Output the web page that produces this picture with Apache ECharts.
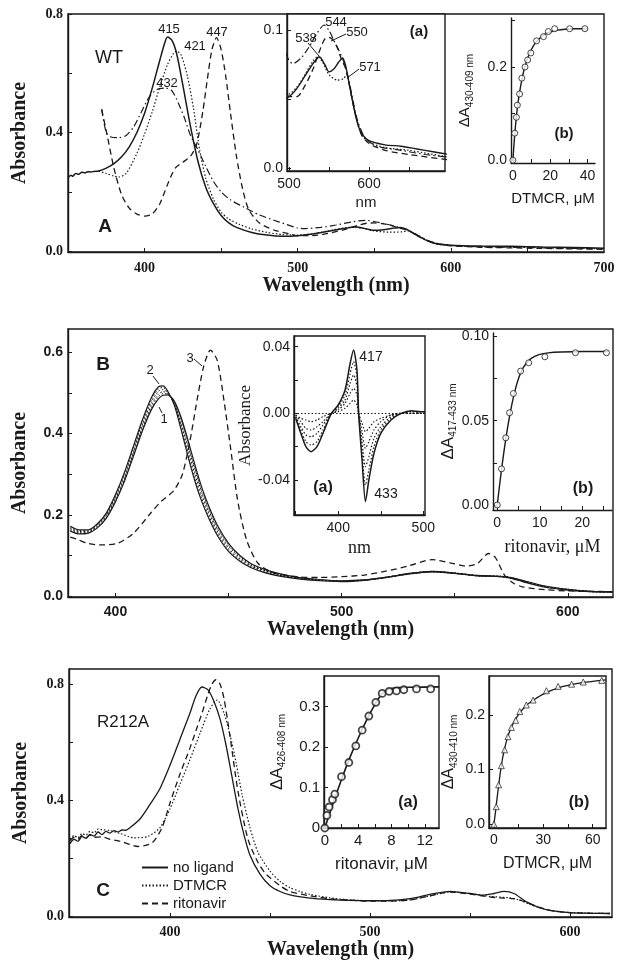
<!DOCTYPE html>
<html>
<head>
<meta charset="utf-8">
<script src="https://cdn.jsdelivr.net/npm/echarts@6/dist/echarts.min.js"></script>
<style>
  html, body { margin: 0; padding: 0; background: #fff; }
  #chart { width: 624px; height: 976px; }
</style>
</head>
<body>
<div id="chart"></div>
<script>
// ---- panel A: WT spectra (wavelength, absorbance) ----
const A_noLigand = [[350,.248],[352,.256],[353,.252],[355,.262],[357,.259],[359,.266],[361,.264],[363,.268],[365,.267],[367,.269],[370,.27],[375,.28],[380,.295],[385,.318],[390,.352],[395,.40],[400,.465],[405,.55],[410,.645],[413,.70],[415,.722],[418,.71],[421,.665],[425,.56],[430,.42],[435,.30],[440,.215],[445,.16],[450,.12],[455,.095],[460,.08],[470,.063],[480,.054],[490,.05],[500,.052],[510,.058],[520,.067],[530,.076],[538,.081],[545,.075],[550,.07],[556,.072],[562,.077],[567,.08],[571,.074],[575,.062],[580,.047],[585,.034],[590,.026],[600,.02],[620,.017],[640,.016],[660,.014],[680,.012],[700,.01]];
const A_dotted = [[370,.27],[375,.262],[380,.253],[383,.25],[388,.262],[395,.33],[400,.395],[405,.47],[410,.555],[415,.63],[419,.668],[421,.675],[424,.66],[428,.59],[432,.48],[436,.34],[440,.245],[445,.175],[450,.132],[455,.108],[462,.09],[470,.075],[480,.063],[490,.056],[500,.054],[510,.059],[520,.068],[530,.078],[536,.081],[542,.077],[550,.068],[560,.064],[568,.065],[572,.068],[575,.062],[580,.047],[590,.025],[600,.019],[620,.015],[650,.013],[700,.008]];
const A_dashed = [[372,.478],[376,.38],[380,.28],[385,.19],[390,.145],[395,.125],[400,.118],[405,.125],[410,.16],[415,.225],[420,.28],[425,.30],[430,.32],[434,.36],[438,.47],[441,.58],[444,.68],[447,.72],[450,.68],[453,.59],[456,.47],[460,.32],[464,.21],[468,.14],[475,.095],[485,.07],[495,.058],[500,.052],[510,.052],[520,.06],[530,.072],[540,.088],[545,.094],[550,.095],[555,.093],[560,.088],[565,.08],[571,.072],[575,.062],[580,.047],[590,.025],[600,.018],[620,.013],[650,.01],[700,.006]];
const A_dashdot = [[372,.478],[375,.40],[378,.385],[383,.383],[388,.39],[393,.42],[398,.47],[403,.52],[408,.545],[414,.55],[418,.54],[422,.50],[426,.45],[430,.39],[435,.34],[440,.285],[445,.235],[450,.20],[456,.173],[465,.148],[475,.122],[488,.098],[500,.078],[505,.076],[515,.08],[525,.088],[535,.098],[544,.104],[550,.10],[556,.093],[562,.086],[568,.078],[573,.068],[578,.055],[585,.036],[595,.022],[610,.016],[640,.013],[670,.01],[700,.008]];
// inset A(b): DTMCR titration
const dtmcrA = [0,1,1.9,2.4,3.6,4.8,6.5,7.9,9.6,12.7,16.4,19,22.4,30.4,38.6];
const dA_A = [0,0.058,0.092,0.118,0.142,0.176,0.2,0.215,0.23,0.256,0.265,0.276,0.282,0.282,0.282];
const fitA_x = [0,1,2,3,4,5,6,8,10,12,14,16,18,20,24,28,32,36,40];
const fitA_y = [0,0.055,0.098,0.13,0.155,0.176,0.194,0.22,0.238,0.251,0.26,0.267,0.272,0.275,0.279,0.281,0.282,0.282,0.282];

// ---- panel B: ritonavir titration spectra ----
const wlB = [380,384,388,392,396,400,404,408,412,416,419,421,423,426,429,432,435,438,441,445,450,455,460,466,472,480,490,500,510,520,530,540,550,560,570,575,580,590,600,610,620];
const B_curve2 = [.172,.163,.163,.178,.205,.25,.305,.37,.435,.49,.515,.517,.505,.47,.41,.345,.285,.235,.195,.15,.11,.086,.07,.058,.05,.043,.038,.036,.039,.046,.055,.06,.056,.05,.048,.044,.036,.022,.015,.011,.01];
const B_step1 = [.170,.161,.161,.176,.202,.246,.300,.364,.429,.484,.510,.513,.503,.472,.417,.353,.293,.242,.201,.155,.114,.089,.072,.060,.051,.044,.039,.036,.039,.046,.055,.060,.056,.050,.048,.045,.037,.023,.015,.011,.010];
const B_step2 = [.167,.159,.159,.174,.199,.242,.295,.358,.423,.478,.504,.508,.501,.474,.424,.362,.302,.25,.208,.16,.118,.092,.074,.062,.052,.045,.039,.037,.039,.046,.055,.060,.056,.050,.048,.045,.037,.023,.016,.011,.010];
const B_step3 = [.165,.157,.158,.172,.197,.238,.290,.353,.417,.471,.497,.503,.499,.476,.431,.371,.311,.258,.214,.166,.123,.095,.076,.063,.053,.045,.040,.037,.040,.047,.056,.061,.057,.051,.049,.045,.038,.024,.016,.012,.010];
const B_step4 = [.162,.155,.156,.170,.194,.235,.286,.349,.412,.465,.491,.498,.497,.478,.436,.378,.318,.264,.219,.17,.126,.098,.078,.064,.054,.046,.040,.038,.040,.047,.056,.061,.057,.051,.049,.046,.038,.024,.017,.012,.011];
const B_curve1 = [.160,.153,.155,.168,.192,.232,.283,.345,.408,.46,.485,.494,.495,.48,.44,.385,.325,.27,.225,.175,.13,.10,.08,.066,.056,.047,.041,.038,.04,.047,.056,.061,.057,.051,.049,.046,.039,.025,.017,.012,.011];
const B_curve3 = [[380,.145],[383,.14],[387.6,.13],[393,.126],[401,.13],[408,.155],[415.5,.204],[420,.232],[425.8,.26],[429.6,.30],[433,.384],[436,.48],[439,.565],[442,.605],[445,.58],[448,.48],[451,.36],[454,.236],[458,.138],[463,.081],[470,.057],[482,.047],[490,.046],[500,.048],[510,.052],[520,.062],[530,.075],[540,.09],[548,.082],[555,.074],[560,.08],[565,.105],[568,.095],[572,.052],[576,.032],[580,.023],[590,.016],[600,.013],[610,.012],[620,.011]];
// inset B(a): difference spectra
const wlBa = [350,356,362,368,375,382,392,400,408,414,418,422,424,428,432,436,442,450,462,474,486,497,502];
const Ba_full = [-0.003,-0.012,-0.02,-0.023,-0.02,-0.012,0.0,0.005,0.014,0.03,0.038,0.026,0.0,-0.028,-0.053,-0.04,-0.024,-0.012,-0.004,0.0,0.0016,0.001,0.001];
const Ba_4 = [-0.002,-0.010,-0.017,-0.019,-0.017,-0.010,0.0,0.004,0.011,0.024,0.031,0.022,0.0,-0.023,-0.043,-0.034,-0.020,-0.010,-0.003,0.0,0.001,0.001,0.001];
const Ba_3 = [-0.002,-0.008,-0.013,-0.014,-0.012,-0.007,0.0,0.003,0.008,0.018,0.023,0.016,0.0,-0.017,-0.032,-0.026,-0.015,-0.008,-0.002,0.0,0.001,0.0,0.0];
const Ba_2 = [-0.001,-0.005,-0.009,-0.010,-0.008,-0.005,0.0,0.002,0.006,0.012,0.015,0.011,0.0,-0.011,-0.021,-0.017,-0.010,-0.005,-0.001,0.0,0.0,0.0,0.0];
const Ba_1 = [-0.001,-0.003,-0.004,-0.005,-0.004,-0.002,0.0,0.001,0.003,0.006,0.008,0.005,0.0,-0.006,-0.011,-0.009,-0.005,-0.003,-0.001,0.0,0.0,0.0,0.0];
// inset B(b): ritonavir titration
const ritB = [0,1.0,2.0,2.9,3.8,5.5,7.4,11.2,18.4,25.7];
const dA_B = [0,0.0214,0.0398,0.0547,0.0661,0.0794,0.0843,0.0879,0.0903,0.0903];
const fitB_x = [0,1,2,3,4,5,6,7,8,10,12,15,20,26];
const fitB_y = [0,0.021,0.039,0.054,0.066,0.075,0.081,0.0845,0.087,0.0893,0.0902,0.0907,0.091,0.091];

// ---- panel C: R212A ----
const C_noLigand = [[350,.25],[352,.265],[354,.258],[356,.275],[358,.268],[360,.282],[362,.276],[364,.29],[366,.281],[368,.292],[370,.286],[372,.295],[374,.29],[376,.297],[378,.296],[380,.305],[385,.335],[390,.385],[395,.44],[400,.52],[405,.61],[410,.70],[413,.76],[416,.79],[419,.78],[422,.74],[425,.68],[428,.59],[431,.48],[434,.37],[437,.28],[440,.21],[445,.145],[450,.105],[455,.085],[460,.073],[470,.062],[480,.057],[490,.054],[500,.053],[510,.054],[520,.06],[530,.075],[540,.085],[550,.078],[556,.072],[562,.078],[567,.085],[572,.078],[578,.05],[585,.028],[590,.02],[600,.012],[610,.01],[620,.009]];
const C_dtmcr = [[350,.265],[352,.278],[354,.27],[356,.285],[358,.279],[360,.292],[362,.287],[364,.3],[366,.298],[370,.295],[375,.285],[382,.27],[389,.275],[395,.305],[400,.37],[405,.455],[410,.54],[415,.63],[420,.715],[423.6,.745],[427,.70],[430,.625],[433,.53],[436,.42],[440,.305],[444,.22],[450,.155],[455,.12],[460,.098],[465,.085],[470,.075],[480,.063],[490,.056],[500,.053],[510,.052],[520,.056],[530,.07],[540,.083],[550,.078],[560,.068],[570,.063],[575,.055],[580,.04],[590,.02],[600,.012],[620,.009]];
const C_ritonavir = [[350,.26],[352,.272],[354,.265],[356,.278],[358,.27],[360,.279],[362,.272],[366,.273],[370,.265],[376,.256],[384,.24],[391,.252],[396,.305],[400,.39],[405,.49],[410,.58],[413,.64],[416,.70],[419,.765],[421,.80],[423,.815],[425,.80],[427,.75],[430,.62],[434,.43],[439,.265],[444,.185],[448,.145],[455,.105],[460,.085],[470,.07],[480,.06],[490,.055],[500,.052],[510,.052],[520,.056],[530,.07],[540,.083],[550,.076],[560,.066],[567,.062],[572,.06],[578,.048],[585,.03],[590,.02],[600,.012],[620,.009]];
// inset C(a): ritonavir
const ritC = [0,0.25,0.52,0.92,1.2,2.0,2.88,3.72,4.48,5.28,6.12,6.88,7.72,8.6,9.48,11.0,12.7];
const dA_Ca = [0,0.031,0.052,0.070,0.084,0.127,0.162,0.203,0.242,0.277,0.311,0.333,0.338,0.339,0.342,0.344,0.344];
const fitCa_x = [0,1,2,3,4,5,6,6.8,7.5,8.5,10,13.7];
const fitCa_y = [0,0.062,0.12,0.174,0.222,0.266,0.305,0.33,0.342,0.347,0.348,0.349];
// inset C(b): DTMCR
const dtC = [0,1.4,2.85,4.5,6.5,8.5,10.6,13.2,15.7,19.7,23.8,31.9,39,47.2,54.3,65.5];
const dA_Cb = [0,0.032,0.072,0.107,0.136,0.16,0.177,0.19,0.206,0.218,0.227,0.244,0.252,0.256,0.26,0.263];
const fitCb_x = [0,1,2,3,4,5,6,8,10,12,15,20,25,30,40,50,60,68];
const fitCb_y = [0,0.024,0.05,0.074,0.097,0.116,0.132,0.156,0.173,0.186,0.201,0.218,0.229,0.238,0.25,0.257,0.261,0.264];

const SERIF = '"Liberation Serif", "Times New Roman", serif';
const SANS = '"Liberation Sans", Arial, sans-serif';
const INK = '#1a1a1a';
const DASH = [6, 4];
const DASHDOT = [7, 3, 1.5, 3];
const DOT = [1.5, 2];

const zip = (xs, ys) => xs.map((x, i) => [x, ys[i]]);
const fmt = (d) => (v) => v.toFixed(d);

function lineS(name, gi, data, type, width) {
  return {
    name: name, type: 'line', xAxisIndex: gi, yAxisIndex: gi, data: data,
    symbol: 'none', smooth: 0.25, clip: true, silent: true,
    itemStyle: { color: INK },
    lineStyle: { color: INK, width: width || 1.3, type: type || 'solid' }
  };
}
function dotsS(name, gi, data, sym, size, bw) {
  return {
    name: name, type: 'scatter', xAxisIndex: gi, yAxisIndex: gi, data: data,
    symbol: sym, symbolSize: size, silent: true, z: 5,
    itemStyle: { color: '#fff', borderColor: INK, borderWidth: bw || 1 }
  };
}
function ax(gi, o) {
  return {
    type: 'value', gridIndex: gi, min: o.min, max: o.max,
    splitLine: { show: false },
    axisLine: { show: true, onZero: false, lineStyle: { color: INK, width: o.lw || 1.4 } },
    axisTick: { show: true, inside: true, length: 4, customValues: o.ticks, lineStyle: { color: INK, width: 1 } },
    axisLabel: {
      customValues: o.labels, formatter: o.fmt, margin: o.margin || 4,
      color: INK, fontFamily: o.font || SANS, fontSize: o.size || 13, fontWeight: o.weight || 'normal'
    },
    name: o.name || '', nameLocation: 'middle', nameGap: o.gap || 20,
    nameRotate: o.rot, nameTextStyle: o.nameStyle
  };
}
const mainName = { fontFamily: SERIF, fontSize: 20, fontWeight: 'bold', color: INK };
const subName = (size) => ({
  color: INK, fontFamily: SANS,
  rich: {
    d: { fontFamily: SANS, fontSize: size, color: INK, lineHeight: 20, verticalAlign: 'middle' },
    s: { fontFamily: SANS, fontSize: 10, color: INK, lineHeight: 20, verticalAlign: 'bottom' }
  }
});

const frame = { show: true, borderColor: INK, borderWidth: 1.4, backgroundColor: '#fff' };
const grid = [
  Object.assign({ left: 68, top: 14, width: 536, height: 238 }, frame, { backgroundColor: 'transparent' }),
  Object.assign({ left: 287, top: 14, width: 158, height: 157 }, frame),
  { left: 511, top: 18, width: 84, height: 145 },
  Object.assign({ left: 68, top: 329, width: 545, height: 268 }, frame, { backgroundColor: 'transparent' }),
  Object.assign({ left: 294, top: 336, width: 131, height: 179 }, frame),
  { left: 493, top: 333, width: 119, height: 177 },
  Object.assign({ left: 69, top: 669, width: 543, height: 248 }, frame, { backgroundColor: 'transparent' }),
  Object.assign({ left: 324, top: 676, width: 115, height: 152 }, frame),
  Object.assign({ left: 489, top: 676, width: 117, height: 152 }, frame)
];

const xAxis = [
  ax(0, { min: 350, max: 700, ticks: [400,450,500,550,600,650], labels: [400,500,600,700], font: SERIF, weight: 'bold', size: 14, margin: 9,
    name: 'Wavelength (nm)', gap: 23, nameStyle: mainName }),
  ax(1, { min: 497.5, max: 695, ticks: [500,550,600,650], labels: [500,600], margin: 6, size: 14,
    name: 'nm', gap: 24, nameStyle: { fontFamily: SANS, fontSize: 15, color: INK } }),
  ax(2, { min: -1, max: 44, ticks: [0,10,20,30,40], labels: [0,20,40], margin: 6, size: 14,
    name: 'DTMCR, \u03bcM', gap: 28, nameStyle: { fontFamily: SANS, fontSize: 15, color: INK } }),
  ax(3, { min: 379, max: 620, ticks: [400,450,500,550,600], labels: [400,500,600], font: SANS, weight: 'bold', size: 14, margin: 8,
    name: 'Wavelength (nm)', gap: 22, nameStyle: mainName }),
  ax(4, { min: 348, max: 502, ticks: [350,400,450,500], labels: [400,500], margin: 6, size: 14,
    name: 'nm', gap: 24, nameStyle: { fontFamily: SERIF, fontSize: 18, color: INK } }),
  ax(5, { min: -1, max: 27, ticks: [0,5,10,15,20,25], labels: [0,10,20], margin: 6, size: 14,
    name: 'ritonavir, \u03bcM', gap: 28, nameStyle: { fontFamily: SERIF, fontSize: 18, color: INK } }),
  ax(6, { min: 349.5, max: 621, ticks: [400,450,500,550,600], labels: [400,500,600], font: SERIF, weight: 'bold', size: 14, margin: 8,
    name: 'Wavelength (nm)', gap: 23, nameStyle: mainName }),
  ax(7, { min: -0.1, max: 13.7, ticks: [0,2,4,6,8,10,12], labels: [0,4,8,12], margin: 5, size: 15,
    name: 'ritonavir, \u03bcM', gap: 28, nameStyle: { fontFamily: SANS, fontSize: 17, color: INK } }),
  ax(8, { min: -3, max: 68.1, ticks: [0,15,30,45,60], labels: [0,30,60], margin: 5, size: 14,
    name: 'DTMCR, \u03bcM', gap: 28, nameStyle: { fontFamily: SANS, fontSize: 16, color: INK } })
];
const yAxis = [
  ax(0, { min: -0.003, max: 0.8, ticks: [0,0.2,0.4,0.6,0.8], labels: [0,0.4,0.8], fmt: fmt(1), font: SERIF, weight: 'bold', size: 14, margin: 5,
    name: 'Absorbance', gap: 38, rot: 90, nameStyle: mainName }),
  ax(1, { min: -0.002, max: 0.112, ticks: [0,0.05,0.1], labels: [0,0.1], fmt: fmt(1), margin: 4, size: 14 }),
  ax(2, { min: -0.006, max: 0.305, ticks: [0,0.1,0.2,0.3], labels: [0,0.2], fmt: fmt(1), margin: 4, size: 14,
    name: '{d|\u0394A}{s|430-409 nm}', gap: 36, rot: 90, nameStyle: subName(15) }),
  ax(3, { min: -0.002, max: 0.657, ticks: [0,0.1,0.2,0.3,0.4,0.5,0.6], labels: [0,0.2,0.4,0.6], fmt: fmt(1), font: SANS, weight: 'bold', size: 14, margin: 5,
    name: 'Absorbance', gap: 38, rot: 90, nameStyle: mainName }),
  ax(4, { min: -0.061, max: 0.0464, ticks: [-0.04,-0.02,0,0.02,0.04], labels: [-0.04,0,0.04], fmt: fmt(2), margin: 4, size: 14,
    name: 'Absorbance', gap: 33, rot: 90, nameStyle: { fontFamily: SERIF, fontSize: 17, color: INK } }),
  ax(5, { min: -0.003, max: 0.102, ticks: [0,0.025,0.05,0.075,0.1], labels: [0,0.05,0.1], fmt: fmt(2), margin: 4, size: 14,
    name: '{d|\u0394A}{s|417-433 nm}', gap: 35, rot: 90, nameStyle: subName(17) }),
  ax(6, { min: -0.003, max: 0.852, ticks: [0,0.2,0.4,0.6,0.8], labels: [0,0.4,0.8], fmt: fmt(1), font: SERIF, weight: 'bold', size: 14, margin: 5,
    name: 'Absorbance', gap: 38, rot: 90, nameStyle: mainName }),
  ax(7, { min: 0, max: 0.376, ticks: [0,0.1,0.2,0.3], labels: [0,0.1,0.2,0.3], fmt: (v) => v === 0 ? '0' : v.toFixed(1), margin: 4, size: 15,
    name: '{d|\u0394A}{s|426-408 nm}', gap: 37, rot: 90, nameStyle: subName(17) }),
  ax(8, { min: -0.007, max: 0.271, ticks: [0,0.1,0.2], labels: [0,0.1,0.2], fmt: fmt(1), margin: 4, size: 14,
    name: '{d|\u0394A}{s|430-410 nm}', gap: 30, rot: 90, nameStyle: subName(16) })
];

const series = [
  // A main
  lineS('A solid', 0, A_noLigand, 'solid', 1.5),
  lineS('A dotted', 0, A_dotted, DOT, 1.2),
  lineS('A dashed', 0, A_dashed, DASH, 1.3),
  lineS('A dashdot', 0, A_dashdot, DASHDOT, 1.2),
  // A(a) inset: Q-band region of the same spectra
  lineS('Aa solid', 1, A_noLigand, 'solid', 1.4),
  lineS('Aa dotted', 1, A_dotted, DOT, 1.2),
  lineS('Aa dashed', 1, A_dashed, DASH, 1.3),
  lineS('Aa dashdot', 1, A_dashdot, DASHDOT, 1.2),
  // A(b) inset
  lineS('Ab fit', 2, zip(fitA_x, fitA_y), 'solid', 1.4),
  dotsS('Ab pts', 2, zip(dtmcrA, dA_A), 'circle', 6, 1),
  // B main
  lineS('B c2', 3, zip(wlB, B_curve2), 'solid', 1.2),
  lineS('B s1', 3, zip(wlB, B_step1), DOT, 1),
  lineS('B s2', 3, zip(wlB, B_step2), DOT, 1),
  lineS('B s3', 3, zip(wlB, B_step3), DOT, 1),
  lineS('B s4', 3, zip(wlB, B_step4), DOT, 1),
  lineS('B c1', 3, zip(wlB, B_curve1), 'solid', 1.2),
  lineS('B c3', 3, B_curve3, DASH, 1.3),
  // B(a) inset
  Object.assign(lineS('Ba full', 4, zip(wlBa, Ba_full), 'solid', 1.5), {
    markLine: { silent: true, symbol: 'none', label: { show: false },
      lineStyle: { color: INK, type: DOT, width: 1 }, data: [{ yAxis: 0 }] }
  }),
  lineS('Ba 4', 4, zip(wlBa, Ba_4), DOT, 1.2),
  lineS('Ba 3', 4, zip(wlBa, Ba_3), DOT, 1.2),
  lineS('Ba 2', 4, zip(wlBa, Ba_2), DOT, 1.2),
  lineS('Ba 1', 4, zip(wlBa, Ba_1), DOT, 1.2),
  // B(b) inset
  lineS('Bb fit', 5, zip(fitB_x, fitB_y), 'solid', 1.4),
  dotsS('Bb pts', 5, zip(ritB, dA_B), 'circle', 6, 1),
  // C main
  lineS('no ligand', 6, C_noLigand, 'solid', 1.3),
  lineS('DTMCR', 6, C_dtmcr, DOT, 1.2),
  lineS('ritonavir', 6, C_ritonavir, DASH, 1.3),
  // C insets
  lineS('Ca fit', 7, zip(fitCa_x, fitCa_y), 'solid', 1.6),
  dotsS('Ca pts', 7, zip(ritC, dA_Ca), 'circle', 7, 1.8),
  lineS('Cb fit', 8, zip(fitCb_x, fitCb_y), 'solid', 1.3),
  dotsS('Cb pts', 8, zip(dtC, dA_Cb), 'triangle', 6, 0.9)
];

function txt(s, x, y, size, bold) {
  return { type: 'text', x: x, y: y, silent: true, z: 50,
    style: { text: s, fill: INK, align: 'center', verticalAlign: 'middle',
      font: (bold ? 'bold ' : '') + size + 'px ' + SANS } };
}
function seg(x1, y1, x2, y2) {
  return { type: 'line', silent: true, z: 50, shape: { x1: x1, y1: y1, x2: x2, y2: y2 },
    style: { stroke: INK, lineWidth: 1 } };
}
const notes = [
  txt('415', 169, 29, 13), txt('421', 195, 46, 13), txt('447', 217, 32, 13), txt('432', 167, 83, 13),
  txt('WT', 109, 58, 18), txt('A', 105, 227, 19, true),
  txt('(a)', 419, 32, 15, true), txt('538', 306, 38, 13), txt('544', 336, 22, 13), txt('550', 357, 32, 13), txt('571', 370, 67, 13),
  seg(308, 43, 319, 56), seg(346, 34, 331, 41), seg(359, 69, 347, 78),
  txt('(b)', 564, 134, 15, true),
  txt('B', 103, 365, 19, true), txt('2', 150, 370, 13), txt('1', 164, 419, 13), txt('3', 190, 358, 13),
  seg(153, 376, 159, 384), seg(159, 407, 162, 413), seg(194, 359, 202, 366),
  txt('417', 371, 357, 14), txt('433', 386, 494, 14), txt('(a)', 323, 488, 16, true),
  txt('(b)', 583, 489, 16, true),
  txt('R212A', 123, 722, 17), txt('C', 103, 891, 19, true),
  txt('(a)', 408, 803, 16, true), txt('(b)', 579, 803, 16, true)
];

const chart = echarts.init(document.getElementById('chart'), null, { renderer: 'canvas' });
chart.setOption({
  animation: false,
  backgroundColor: '#fff',
  grid: grid,
  xAxis: xAxis,
  yAxis: yAxis,
  legend: {
    data: ['no ligand', 'DTMCR', 'ritonavir'],
    orient: 'vertical', left: 136, top: 855, itemWidth: 26, itemHeight: 12, itemGap: 3,
    itemStyle: { opacity: 0 },
    textStyle: { fontFamily: SANS, fontSize: 15, color: INK }, selectedMode: false
  },
  series: series,
  graphic: notes
});
</script>
</body>
</html>
